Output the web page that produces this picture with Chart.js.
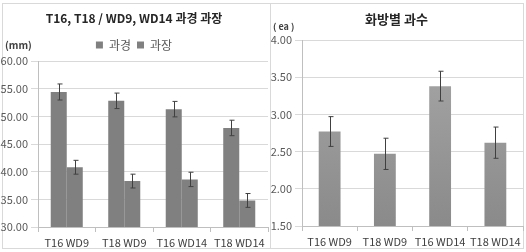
<!DOCTYPE html>
<html>
<head>
<meta charset="utf-8">
<script src="https://cdn.jsdelivr.net/npm/chart.js@4.4.0/dist/chart.umd.min.js"></script>
<style>
  html, body { margin: 0; padding: 0; background: #fff; }
  #wrap { position: relative; width: 526px; height: 252px; overflow: hidden; }
  canvas { position: absolute; top: 0; }
  #left { left: 0; }
  #right { left: 270px; }
  #frame { position: absolute; left: 2px; top: 3px; width: 522px; height: 246px; border: 1px solid #d9d9d9; box-sizing: border-box; }
  #divider { position: absolute; left: 270px; top: 3px; width: 1px; height: 246px; background: #d9d9d9; }
</style>
</head>
<body>
<div id="wrap">
  <div id="frame"></div>
  <div id="divider"></div>
  <canvas id="left" width="270" height="252"></canvas>
  <canvas id="right" width="256" height="252"></canvas>
</div>
<script>
// categories shared by both charts
const categories = ['T16 WD9', 'T18 WD9', 'T16 WD14', 'T18 WD14'];

// left chart: 과경 / 과장 (mm)
const stemValues = [54.4, 52.8, 51.3, 47.9];
const stemErrors = [1.45, 1.4, 1.4, 1.4];
const lengthValues = [40.8, 38.3, 38.6, 34.8];
const lengthErrors = [1.25, 1.25, 1.3, 1.25];
const leftTicks = [30, 35, 40, 45, 50, 55, 60];

// right chart: 화방별 과수 (ea)
const fruitValues = [2.77, 2.47, 3.38, 2.62];
const fruitErrors = [0.2, 0.21, 0.2, 0.21];
const rightTicks = [1.5, 2.0, 2.5, 3.0, 3.5, 4.0];

const FONT = "'Noto Sans CJK KR', 'Noto Sans', sans-serif";
const TEXT = '#595959';
const GRID = '#d9d9d9';
const AXIS = '#bfbfbf';

Chart.defaults.font.family = FONT;
Chart.defaults.color = TEXT;

// error bars drawn from each dataset's errors array
const errorBars = {
    id: 'errorBars',
    afterDatasetsDraw(chart) {
        const ctx = chart.ctx;
        const y = chart.scales.y;
        ctx.save();
        ctx.strokeStyle = '#404040';
        ctx.lineWidth = 1;
        chart.data.datasets.forEach((ds, di) => {
            const meta = chart.getDatasetMeta(di);
            meta.data.forEach((bar, i) => {
                const v = ds.data[i];
                const e = ds.errors[i];
                const x = Math.round(bar.x) + 0.5;
                const top = y.getPixelForValue(v + e);
                const bot = y.getPixelForValue(v - e);
                ctx.beginPath();
                ctx.moveTo(x, top); ctx.lineTo(x, bot);
                ctx.moveTo(x - 2, top); ctx.lineTo(x + 3, top);
                ctx.moveTo(x - 2, bot); ctx.lineTo(x + 3, bot);
                ctx.stroke();
            });
        });
        ctx.restore();
    }
};

// small unit label in the corner, e.g. (mm)
const unitLabel = {
    id: 'unitLabel',
    afterDraw(chart, args, opts) {
        const ctx = chart.ctx;
        ctx.save();
        ctx.font = opts.font;
        ctx.fillStyle = '#404040';
        ctx.textBaseline = 'middle';
        ctx.fillText(opts.text, opts.x, opts.y);
        ctx.restore();
    }
};

function yScale(ticks, width) {
    return {
        min: ticks[0],
        max: ticks[ticks.length - 1],
        afterFit: s => { s.width = width; },
        afterBuildTicks: s => { s.ticks = ticks.map(v => ({ value: v })); },
        border: { color: AXIS },
        grid: { color: GRID, tickLength: 7, tickColor: GRID },
        ticks: { padding: 3, color: TEXT, font: { size: 11 }, callback: v => Number(v).toFixed(2) }
    };
}

function xScale(height) {
    return {
        afterFit: s => { s.height = height; },
        border: { color: AXIS },
        grid: { drawOnChartArea: false, tickLength: 5, tickColor: AXIS },
        ticks: { padding: 4, color: '#404040', font: { size: 11 }, maxRotation: 0, autoSkip: false }
    };
}

new Chart(document.getElementById('left'), {
    type: 'bar',
    data: {
        labels: categories,
        datasets: [
            { label: '과경', data: stemValues, errors: stemErrors, backgroundColor: '#808080',
              categoryPercentage: 0.557, barPercentage: 1 },
            { label: '과장', data: lengthValues, errors: lengthErrors, backgroundColor: '#808080',
              categoryPercentage: 0.557, barPercentage: 1 }
        ]
    },
    options: {
        responsive: false,
        animation: false,
        layout: { padding: { left: 0, right: 2, top: 0, bottom: 0 } },
        plugins: {
            title: {
                display: true,
                text: 'T16, T18 / WD9, WD14 과경 과장',
                color: '#262626',
                font: { size: 12, weight: 'bold' },
                padding: { top: 10.8, bottom: 7.8 }
            },
            legend: {
                display: true,
                labels: { boxWidth: 7, boxHeight: 7, padding: 6, color: TEXT, font: { size: 12 } }
            },
            tooltip: { enabled: false },
            unitLabel: { text: '(mm)', x: 5, y: 45, font: "bold 10px " + FONT }
        },
        scales: { x: xScale(25), y: yScale(leftTicks, 38) }
    },
    plugins: [errorBars, unitLabel]
});

new Chart(document.getElementById('right'), {
    type: 'bar',
    data: {
        labels: categories,
        datasets: [
            { label: '과수', data: fruitValues, errors: fruitErrors,
              backgroundColor: (c) => {
                  const a = c.chart.chartArea;
                  if (!a) return '#999999';
                  const g = c.chart.ctx.createLinearGradient(0, a.top, 0, a.bottom);
                  g.addColorStop(0, '#a8a8a8');
                  g.addColorStop(1, '#8a8a8a');
                  return g;
              },
              categoryPercentage: 1, barPercentage: 0.395 }
        ]
    },
    options: {
        responsive: false,
        animation: false,
        layout: { padding: { left: 0, right: 3, top: 0, bottom: 0 } },
        plugins: {
            title: {
                display: true,
                text: '화방별 과수',
                color: '#262626',
                font: { size: 13, weight: 'bold' },
                padding: { top: 11.2, bottom: 13.2 }
            },
            legend: { display: false },
            tooltip: { enabled: false },
            unitLabel: { text: '( ea )', x: 3, y: 27, font: "bold 9px " + FONT }
        },
        scales: { x: xScale(26), y: yScale(rightTicks, 32) }
    },
    plugins: [errorBars, unitLabel]
});
</script>
</body>
</html>
